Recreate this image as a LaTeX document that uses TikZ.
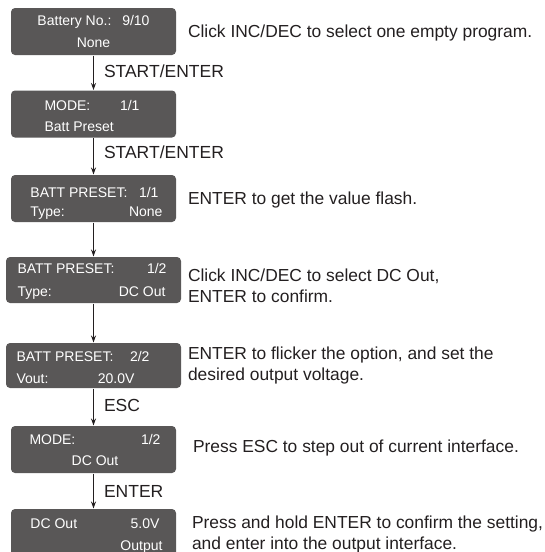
\documentclass[tikz,border=0pt]{standalone}
\usepackage{fontspec}
\setmainfont{Liberation Sans}
\usetikzlibrary{positioning,arrows.meta}
\definecolor{gris}{RGB}{89,87,87}
\definecolor{flecha}{RGB}{35,31,32}

\begin{document}
\begin{tikzpicture}[x=1pt,y=-1pt]
\useasboundingbox (0,0) rectangle (544,552);
\clip (0,0) rectangle (544,552);
%% Pantallas del menu
  \begin{scope}[line width=1pt,>={Stealth[length=7pt,width=5pt]},
       pantalla/.style={rectangle,fill=gris,rounded corners=4pt,minimum width=165pt,minimum height=47pt,inner sep=0pt},
       dato/.style={text=white,inner sep=0pt,font=\fontsize{14}{16}\selectfont},
       etiqueta/.style={right,inner sep=0pt,xshift=10pt,font=\fontsize{17.5}{20}\selectfont},
       nota/.style={align=left,inner sep=0pt,text=flecha,font=\fontsize{17.4}{21.5}\selectfont},]
   \node [pantalla] (bateria) at (93.5,31.5) {};
   \node [dato,anchor=base west] (bateria1) at (37,25) {Battery No.:};
   \node [dato,anchor=base east] (bateria2) at (150,25) {9/10};
   \node [dato,anchor=base] (bateria3) at (93.5,47) {None};
   \node [pantalla] (modo1) at (93.5,114) {};
   \node [dato,anchor=base west] (modo1a) at (44,110) {MODE:};
   \node [dato,anchor=base east] (modo1b) at (140,110) {1/1};
   \node [dato,anchor=base west] (modo1c) at (44,131) {Batt Preset};
   \node [pantalla] (preset1) at (93.5,198.5) {};
   \node [dato,anchor=base west] (preset1a) at (30,197) {BATT PRESET:};
   \node [dato,anchor=base east] (preset1b) at (159,197) {1/1};
   \node [dato,anchor=base west] (preset1c) at (30,216) {Type:};
   \node [dato,anchor=base east] (preset1d) at (163,216) {None};
   \node [pantalla,minimum width=175pt,minimum height=46pt] (preset2) at (93.5,280) {};
   \node [dato,anchor=base west] (preset2a) at (17,273) {BATT PRESET:};
   \node [dato,anchor=base east] (preset2b) at (167,273) {1/2};
   \node [dato,anchor=base west] (preset2c) at (17,296) {Type:};
   \node [dato,anchor=base east] (preset2d) at (166,296) {DC Out};
   \node [pantalla,minimum width=175pt,minimum height=45pt] (preset3) at (93.5,365.5) {};
   \node [dato,anchor=base west] (preset3a) at (16,361) {BATT PRESET:};
   \node [dato,anchor=base east] (preset3b) at (150,361) {2/2};
   \node [dato,anchor=base west] (preset3c) at (16,383) {Vout:};
   \node [dato,anchor=base east] (preset3d) at (135,383) {20.0V};
   \node [pantalla] (modo2) at (93.5,449.5) {};
   \node [dato,anchor=base west] (modo2a) at (29,444) {MODE:};
   \node [dato,anchor=base east] (modo2b) at (161,444) {1/2};
   \node [dato,anchor=base] (modo2c) at (95,465) {DC Out};
   \node [pantalla,minimum height=55pt] (salida) at (93.5,536.5) {};
   \node [dato,anchor=base west] (salida1) at (30,528) {DC Out};
   \node [dato,anchor=base east] (salida2) at (160,528) {5.0V};
   \node [dato,anchor=base east] (salida3) at (163,550) {Output};
%% Flechas
   \draw[->,flecha] (bateria) -- node[etiqueta,pos=0.45] {START/ENTER} (modo1);
   \draw[->,flecha] (modo1) -- node[etiqueta,pos=0.4] {START/ENTER} (preset1);
   \draw[->,flecha] (preset1) -- (preset2);
   \draw[->,flecha] (preset2) -- (preset3);
   \draw[->,flecha] (preset3) -- node[etiqueta,pos=0.45] {ESC} (modo2);
   \draw[->,flecha] (modo2) -- node[etiqueta] {ENTER} (salida);
%% Notas
   \node [nota,right=11pt of bateria,yshift=-1.5pt] (nota1) {Click INC/DEC to select one empty program.};
   \node [nota,right=11pt of preset1,yshift=-1.5pt] (nota2) {ENTER to get the value flash.};
   \node [nota,right=6pt of preset2,yshift=-6pt] (nota3) {Click INC/DEC to select DC Out,\\ENTER to confirm.};
   \node [nota,right=6pt of preset3] (nota4) {ENTER to flicker the option, and set the\\desired output voltage.};
   \node [nota,right=16pt of modo2,yshift=1.5pt] (nota5) {Press ESC to step out of current interface.};
   \node [nota,right=15pt of salida,yshift=2pt] (nota6) {Press and hold ENTER to confirm the setting,\\and enter into the output interface.};
  \end{scope}
\end{tikzpicture}
\end{document}
